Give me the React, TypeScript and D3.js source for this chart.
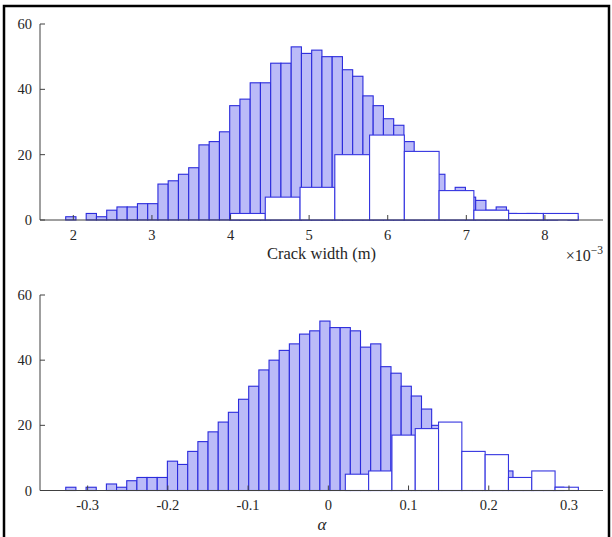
import { useEffect, useRef } from "react";
import * as d3 from "d3";

// crack width histogram (x in units of 1e-3 m)
const crackBinStart = 1.903;
const crackBinWidth = 0.1304;
const crackCounts = [
  1, 0, 2, 1, 3, 4, 4, 5, 5, 11, 12, 14, 16, 23, 24, 27, 35, 37, 42, 42, 48,
  48, 53, 51, 52, 50, 50, 46, 44, 38, 35, 31, 29, 24, 20, 17, 14, 8, 10, 7, 6,
  3, 4, 2, 1, 2, 1, 1, 0, 1,
];
const crackSubStart = 4.0;
const crackSubWidth = 0.4423;
const crackSubCounts = [2, 7, 10, 20, 26, 21, 9, 3, 2, 2];
const crackTicks = [2, 3, 4, 5, 6, 7, 8];

// alpha histogram
const alphaBinStart = -0.3273;
const alphaBinWidth = 0.01267;
const alphaCounts = [
  1, 0, 1, 0, 2, 1, 3, 4, 4, 4, 9, 8, 12, 15, 18, 21, 24, 28, 32, 37, 40, 43,
  45, 48, 49, 52, 50, 50, 49, 44, 45, 38, 36, 32, 29, 25, 20, 14, 10, 9, 7, 6,
  5, 6, 2, 2, 2, 1, 1, 0,
];
const alphaSubStart = 0.0212;
const alphaSubWidth = 0.02905;
const alphaSubCounts = [5, 6, 17, 19, 21, 12, 11, 4, 6, 1];
const alphaTicks = [-0.3, -0.2, -0.1, 0, 0.1, 0.2, 0.3];

const yTicks = [0, 20, 40, 60];

const FONT = "'Liberation Serif', 'DejaVu Serif', serif";
const AXIS = "#404040";

function drawPanel(svg, cfg) {
  const x = d3.scaleLinear().domain(cfg.xDomain).range([cfg.left, cfg.right]);
  const y = d3.scaleLinear().domain([0, 60]).range([cfg.bottom, cfg.top]);
  const g = svg.append("g");

  const bins = cfg.counts.map((c, i) => ({
    x0: cfg.binStart + i * cfg.binWidth,
    x1: cfg.binStart + (i + 1) * cfg.binWidth,
    c,
  }));
  g.selectAll("rect.main")
    .data(bins)
    .join("rect")
    .attr("x", (d) => x(d.x0))
    .attr("y", (d) => y(d.c))
    .attr("width", (d) => x(d.x1) - x(d.x0))
    .attr("height", (d) => y(0) - y(d.c))
    .attr("fill", "#bbbbf8")
    .attr("stroke", "#2b2bdc")
    .attr("stroke-width", 1.1);

  const sub = cfg.subCounts.map((c, i) => ({
    x0: cfg.subStart + i * cfg.subWidth,
    x1: cfg.subStart + (i + 1) * cfg.subWidth,
    c,
  }));
  g.selectAll("rect.sub")
    .data(sub)
    .join("rect")
    .attr("x", (d) => x(d.x0))
    .attr("y", (d) => y(d.c))
    .attr("width", (d) => x(d.x1) - x(d.x0))
    .attr("height", (d) => y(0) - y(d.c))
    .attr("fill", "#ffffff")
    .attr("stroke", "#3535e0")
    .attr("stroke-width", 1.1);

  // axes, drawn on top like matlab
  g.append("line")
    .attr("x1", cfg.left)
    .attr("x2", cfg.right)
    .attr("y1", y(0))
    .attr("y2", y(0))
    .attr("stroke", AXIS);
  g.append("line")
    .attr("x1", cfg.left)
    .attr("x2", cfg.left)
    .attr("y1", y(0))
    .attr("y2", y(60))
    .attr("stroke", AXIS);

  g.selectAll("line.xt")
    .data(cfg.xTicks)
    .join("line")
    .attr("x1", (d) => x(d))
    .attr("x2", (d) => x(d))
    .attr("y1", y(0))
    .attr("y2", y(0) - 5)
    .attr("stroke", AXIS);
  g.selectAll("text.xt")
    .data(cfg.xTicks)
    .join("text")
    .attr("x", (d) => x(d))
    .attr("y", y(0) + 19.5)
    .attr("text-anchor", "middle")
    .attr("font-family", FONT)
    .attr("font-size", 14.5)
    .attr("fill", "#262626")
    .text((d) => cfg.fmt(d));

  g.selectAll("line.yt")
    .data(yTicks)
    .join("line")
    .attr("x1", cfg.left)
    .attr("x2", cfg.left + 5)
    .attr("y1", (d) => y(d))
    .attr("y2", (d) => y(d))
    .attr("stroke", AXIS);
  g.selectAll("text.yt")
    .data(yTicks)
    .join("text")
    .attr("x", cfg.left - 8)
    .attr("y", (d) => y(d) + 5)
    .attr("text-anchor", "end")
    .attr("font-family", FONT)
    .attr("font-size", 14.5)
    .attr("fill", "#262626")
    .text((d) => d);

  return { x, y, g };
}

function App() {
  const ref = useRef(null);

  useEffect(() => {
    const svg = d3.select(ref.current);
    svg.selectAll("*").remove();

    svg
      .append("rect")
      .attr("x", 4)
      .attr("y", 6)
      .attr("width", 605)
      .attr("height", 560)
      .attr("fill", "#ffffff")
      .attr("stroke", "#000000")
      .attr("stroke-width", 2.5);

    const top = drawPanel(svg, {
      left: 40,
      right: 603,
      top: 24,
      bottom: 220,
      xDomain: [1.576, 8.739],
      counts: crackCounts,
      binStart: crackBinStart,
      binWidth: crackBinWidth,
      subCounts: crackSubCounts,
      subStart: crackSubStart,
      subWidth: crackSubWidth,
      xTicks: crackTicks,
      fmt: (d) => String(d),
    });
    top.g
      .append("text")
      .attr("x", 321.5)
      .attr("y", 258.5)
      .attr("text-anchor", "middle")
      .attr("font-family", FONT)
      .attr("font-size", 16.5)
      .attr("fill", "#262626")
      .text("Crack width (m)");
    const exp = top.g
      .append("text")
      .attr("x", 603)
      .attr("y", 261)
      .attr("text-anchor", "end")
      .attr("font-family", FONT)
      .attr("font-size", 16)
      .attr("fill", "#262626");
    exp.append("tspan").text("×10");
    exp.append("tspan").attr("dy", -7).attr("font-size", 11.5).text("−3");

    const bot = drawPanel(svg, {
      left: 40,
      right: 603,
      top: 295,
      bottom: 490.5,
      xDomain: [-0.3594, 0.3424],
      counts: alphaCounts,
      binStart: alphaBinStart,
      binWidth: alphaBinWidth,
      subCounts: alphaSubCounts,
      subStart: alphaSubStart,
      subWidth: alphaSubWidth,
      xTicks: alphaTicks,
      fmt: (d) => (d === 0 ? "0" : String(d)),
    });
    bot.g
      .append("text")
      .attr("x", 322)
      .attr("y", 530)
      .attr("text-anchor", "middle")
      .attr("font-family", FONT)
      .attr("font-style", "italic")
      .attr("font-size", 17)
      .attr("fill", "#262626")
      .text("α");
  }, []);

  return (
    <svg
      ref={ref}
      width="612"
      height="537"
      style={{ position: "absolute", left: 0, top: 0 }}
    ></svg>
  );
}

export default App;
